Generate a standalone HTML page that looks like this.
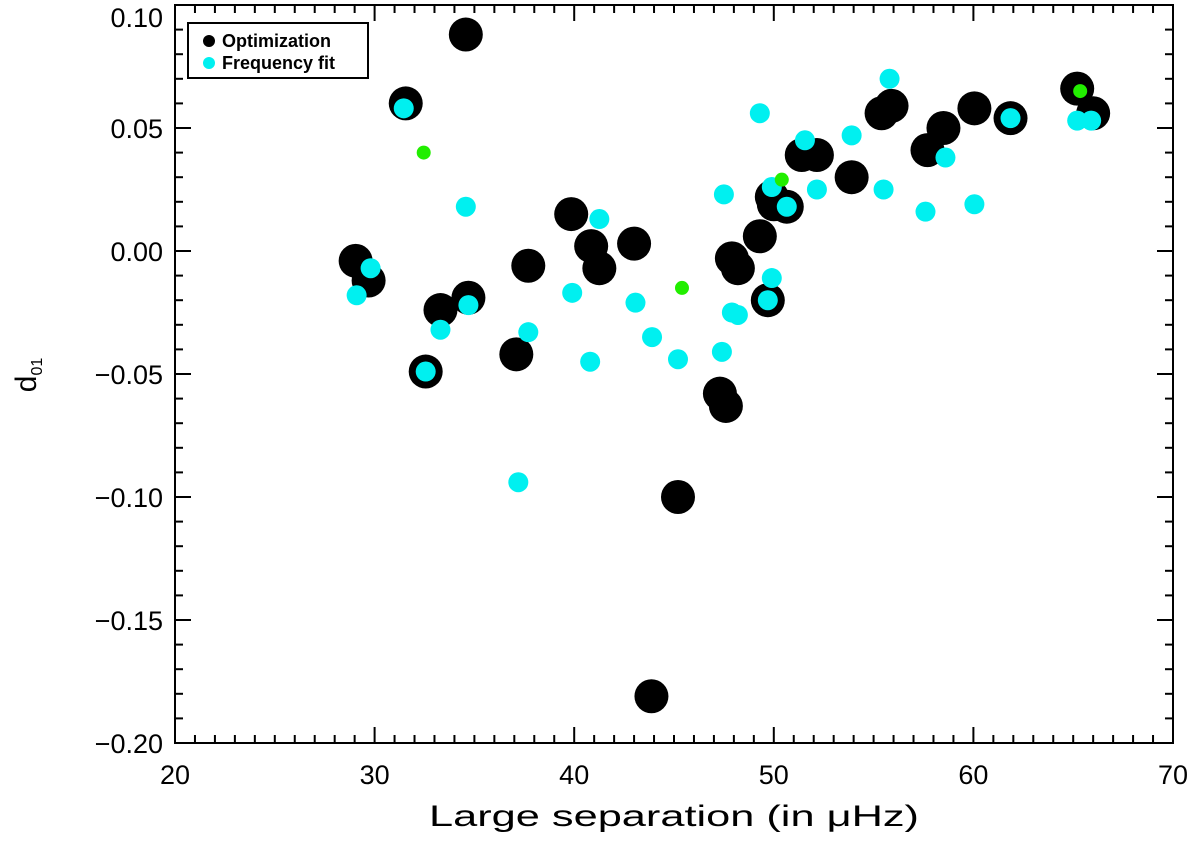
<!DOCTYPE html>
<html><head><meta charset="utf-8"><style>
body{margin:0;background:#fff;}
svg text{font-family:"Liberation Sans",sans-serif;}
</style></head><body>
<svg id="chart" width="1200" height="850" xmlns="http://www.w3.org/2000/svg">
<g id="ticks"></g>
<g id="points"></g>
<rect x="175" y="5" width="998" height="738" fill="none" stroke="#000" stroke-width="2"/>
<g>
<rect x="188" y="23" width="180" height="55" fill="#fff" stroke="#000" stroke-width="2"/>
<circle cx="209" cy="41" r="6" fill="#000"/>
<text x="222" y="47" font-size="18" font-weight="bold" font-family="Liberation Mono">Optimization</text>
<circle cx="209" cy="63" r="6" fill="#00f0f0"/>
<text x="222" y="69" font-size="18" font-weight="bold" font-family="Liberation Mono">Frequency fit</text>
</g>
<text x="674" y="826" font-size="30" text-anchor="middle" font-family="Liberation Mono" textLength="490" lengthAdjust="spacingAndGlyphs">Large separation (in μHz)</text>
<text transform="translate(36,375) rotate(-90)" font-size="30" text-anchor="middle" font-family="Liberation Serif">d<tspan font-size="16" dy="6">01</tspan></text>
</svg>
<script>
const xTicks=[20,30,40,50,60,70];
const yTicks=[0.10,0.05,0.00,-0.05,-0.10,-0.15,-0.20];
const optX=[29.05,29.7,31.56,32.56,33.3,34.57,34.7,37.1,37.7,39.85,40.85,41.26,43.0,43.87,45.2,47.3,47.6,47.9,48.2,49.3,49.7,49.9,50.0,50.65,51.4,52.16,53.9,55.4,55.9,57.7,58.5,60.05,61.86,65.2,66.0];
const optY=[-0.004,-0.012,0.060,-0.049,-0.024,0.088,-0.019,-0.042,-0.006,0.015,0.002,-0.007,0.003,-0.181,-0.100,-0.058,-0.063,-0.003,-0.007,0.006,-0.020,0.022,0.019,0.018,0.039,0.039,0.030,0.056,0.059,0.041,0.050,0.058,0.054,0.066,0.056];
const fitX=[29.1,29.8,31.46,32.56,33.3,34.57,34.7,37.2,37.7,39.9,40.8,41.26,43.07,43.9,45.2,47.4,47.5,47.9,48.2,49.3,49.7,49.9,49.9,50.65,51.56,52.16,53.9,55.5,55.8,57.6,58.6,60.05,61.86,65.2,65.9];
const fitY=[-0.018,-0.007,0.058,-0.049,-0.032,0.018,-0.022,-0.094,-0.033,-0.017,-0.045,0.013,-0.021,-0.035,-0.044,-0.041,0.023,-0.025,-0.026,0.056,-0.020,-0.011,0.026,0.018,0.045,0.025,0.047,0.025,0.070,0.016,0.038,0.019,0.054,0.053,0.053];
const grnX=[32.46,45.4,50.4,65.35];
const grnY=[0.040,-0.015,0.029,0.065];
const L=175,R=1173,T=5,B=743,X0=20,X1=70,Y0=-0.2,Y1=0.1;
const sx=v=>L+(v-X0)/(X1-X0)*(R-L);
const sy=v=>B-(v-Y0)/(Y1-Y0)*(B-T);
const NS='http://www.w3.org/2000/svg';
const tg=document.getElementById('ticks'),pg=document.getElementById('points');
function ln(x1,y1,x2,y2){const l=document.createElementNS(NS,'line');l.setAttribute('x1',x1);l.setAttribute('y1',y1);l.setAttribute('x2',x2);l.setAttribute('y2',y2);l.setAttribute('stroke','#000');l.setAttribute('stroke-width','2');


tg.appendChild(l);}
for(let v=20;v<=70;v++){const x=sx(v),len=(v%10===0)?16:8;ln(x,B,x,B-len);ln(x,T,x,T+len);}
for(let i=-20;i<=10;i++){const y=sy(i/100),len=(i%5===0)?16:8;ln(L,y,L+len,y);ln(R,y,R-len,y);}
xTicks.forEach(v=>{const t=document.createElementNS(NS,'text');t.setAttribute('x',sx(v));t.setAttribute('y',784);t.setAttribute('font-size','27');t.setAttribute('text-anchor','middle');t.textContent=v;


tg.appendChild(t);});
yTicks.forEach(v=>{const t=document.createElementNS(NS,'text');t.setAttribute('x',163);t.setAttribute('y',Math.max(sy(v)+10,27));t.setAttribute('font-size','27');t.setAttribute('text-anchor','end');t.textContent=(v<0?'\u2212':'')+Math.abs(v).toFixed(2);


tg.appendChild(t);});
function pts(xs,ys,r,c,name){xs.forEach((x,i)=>{const p=document.createElementNS(NS,'circle');p.setAttribute('cx',sx(x));p.setAttribute('cy',sy(ys[i]));p.setAttribute('r',r);p.setAttribute('fill',c);


pg.appendChild(p);});}
pts(optX,optY,17,'#000','optimization-point');
pts(fitX,fitY,10,'#00f0f0','frequency-fit-point');
pts(grnX,grnY,7,'#22ee00','green-point');
</script>
</body></html>
